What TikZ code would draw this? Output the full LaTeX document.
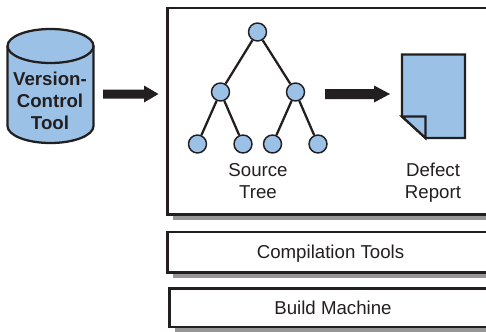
\documentclass[tikz,border=0pt]{standalone}
\usepackage{fontspec}
\setmainfont{Liberation Sans}
\definecolor{fillblue}{RGB}{155,194,230}
\definecolor{ink}{RGB}{35,31,32}
\definecolor{shade}{RGB}{150,150,150}
\tikzset{
  x=0.75pt,y=-0.75pt,
  panel/.style={draw=ink,line width=1.9pt,fill=white,line join=miter},
  panelshade/.style={fill=shade,draw=none},
  treenode/.style={circle,draw=ink,line width=1.1pt,fill=fillblue,minimum size=13.5pt,inner sep=0pt},
  treeedge/.style={draw=ink,line width=1.7pt},
  flow/.style={fill=ink,draw=none},
  label/.style={text=ink,font=\fontsize{14}{16.5}\selectfont,align=center},
  boldlabel/.style={text=ink,font=\fontsize{14}{16.5}\selectfont\bfseries,align=center},
  outline/.style={draw=ink,line width=1.7pt,fill=fillblue,line join=miter}
}
\begin{document}
\begin{tikzpicture}
\useasboundingbox (0,0) rectangle (486,332);
\fill[white] (0,0) rectangle (486,332);
% shadows
\fill[panelshade] (173,14) rectangle (486,220);
\fill[panelshade] (173,238) rectangle (486,278);
\fill[panelshade] (175,294) rectangle (486,332);
% panels
\draw[panel] (486,8) -- (167.5,8) -- (167.5,214.5) -- (486,214.5);
\draw[panel] (486,232) -- (167.5,232) -- (167.5,272.5) -- (486,272.5);
\draw[panel] (486,288.5) -- (169.5,288.5) -- (169.5,327) -- (486,327);
\node[label] (ct) at (330.5,253.5) {Compilation Tools};
\node[label] (bm) at (333,308) {Build Machine};
% cylinder
\draw[outline] (7.5,46) -- (7.5,126) arc[start angle=180,end angle=0,x radius=43,y radius=17] -- (93.5,46);
\draw[outline] (50.5,46) ellipse[x radius=43,y radius=17];
\node[boldlabel] (vct) at (50,101) {Version-\\Control\\Tool};
% flow arrows
\coordinate (a1s) at (103,94);
\coordinate (a2s) at (325,94);
\fill[flow] (a1s) ++(0,-4.5) -- ++(41,0) -- ++(0,-4) -- ++(14.5,8.5) -- ++(-14.5,8.5) -- ++(0,-4) -- ++(-41,0) -- cycle;
\fill[flow] (a2s) ++(0,-5) -- ++(49,0) -- ++(0,-3.5) -- ++(16,8.5) -- ++(-16,8.5) -- ++(0,-3.5) -- ++(-49,0) -- cycle;
% tree
\node[treenode] (r) at (257.5,32) {};
\node[treenode] (m1) at (220.5,92) {};
\node[treenode] (m2) at (295.5,92) {};
\node[treenode] (l1) at (197.5,144) {};
\node[treenode] (l2) at (243,144) {};
\node[treenode] (l3) at (272.5,144) {};
\node[treenode] (l4) at (318,144) {};
\draw[treeedge] (r) -- (m1);
\draw[treeedge] (r) -- (m2);
\draw[treeedge] (m1) -- (l1);
\draw[treeedge] (m1) -- (l2);
\draw[treeedge] (m2) -- (l3);
\draw[treeedge] (m2) -- (l4);
\node[label] (st) at (258,181) {Source\\Tree};
% document
\draw[outline] (402,54.5) -- (465,54.5) -- (465,138) -- (425.5,138) -- (402,116.5) -- cycle;
\draw[outline] (402,116.5) -- (425.5,116.5) -- (425.5,138) -- cycle;
\node[label] (dr) at (433,182.5) {Defect\\Report};
\end{tikzpicture}
\end{document}
